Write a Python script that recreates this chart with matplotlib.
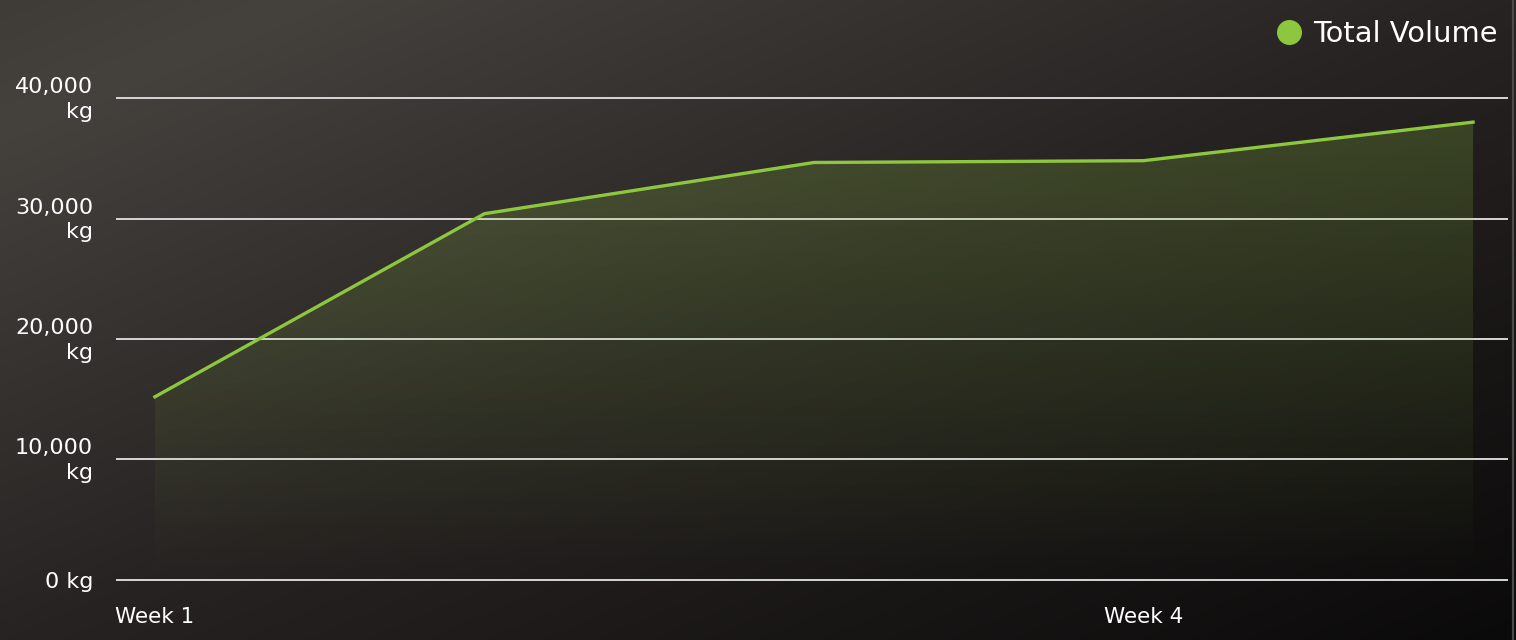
import numpy as np
import matplotlib
matplotlib.use("Agg")
import matplotlib.pyplot as plt
from matplotlib.patches import Polygon
from matplotlib.lines import Line2D
from matplotlib.colors import to_rgb
from matplotlib.transforms import ScaledTranslation

# ---- data ----
categories = ["Week 1", "Week 2", "Week 3", "Week 4", "Week 5"]
total_volume = [15200, 30400, 34650, 34800, 38000]
series_name = "Total Volume"
y_ticks = [0, 10000, 20000, 30000, 40000]
y_tick_labels = ["0 kg", "10,000\nkg", "20,000\nkg", "30,000\nkg", "40,000\nkg"]
shown_x_ticks = [0, 3]

GREEN = "#8dc63f"
W, H = 1516, 640

fig = plt.figure(figsize=(W / 100, H / 100), dpi=100)

# ---- background gradient (to bottom right) ----
bg = fig.add_axes([0, 0, 1, 1], zorder=-10)
bg.set_axis_off()
xs = np.linspace(0, 1, W)
ys = np.linspace(0, 1, H)
XX, YY = np.meshgrid(xs, ys)
T = (XX + YY) / 2.0
stops_t = [0.0, 0.1, 0.5, 1.0]
stops_c = [(0x3f, 0x3b, 0x37), (0x45, 0x41, 0x3d), (0x27, 0x23, 0x22), (0x0b, 0x0a, 0x0a)]
img = np.zeros((H, W, 3))
for ch in range(3):
    img[..., ch] = np.interp(T, stops_t, [c[ch] / 255 for c in stops_c])
bg.imshow(img, extent=[0, 1, 0, 1], aspect="auto", origin="upper")
bg.set_xlim(0, 1)
bg.set_ylim(0, 1)
bg.add_line(Line2D([1513 / W, 1513 / W], [0, 1], color="#4a4a4a", lw=1.6))

# ---- main axes ----
ax = fig.add_axes([116 / W, 54 / H, 1392 / W, 494 / H])
ax.patch.set_alpha(0)
x = np.arange(len(categories))

# gradient fill under line
verts = [(x[0], 0)] + list(zip(x, total_volume)) + [(x[-1], 0)]
poly = Polygon(verts, closed=True, facecolor="none", edgecolor="none", transform=ax.transData)
ax.add_patch(poly)
gy = np.linspace(0, 1, 300)[:, None]
rgba = np.zeros((300, 1, 4))
r, g, b = to_rgb(GREEN)
rgba[..., 0], rgba[..., 1], rgba[..., 2] = r, g, b
rgba[..., 3] = 0.24 * gy
im = ax.imshow(rgba, extent=[x[0], x[-1], 0, 40000], origin="lower", aspect="auto",
               interpolation="bilinear", zorder=1)
im.set_clip_path(poly)
ax.set_xlim(-0.118, 4.106)
ax.set_ylim(-500, 40500)

ax.plot(x, total_volume, color=GREEN, lw=2.4, zorder=3, label=series_name)

# grid & ticks
ax.set_yticks(y_ticks)
ax.set_yticklabels(y_tick_labels, fontsize=16, color="white", linespacing=1.3,
                   multialignment="right")
ax.set_xticks(shown_x_ticks)
ax.set_xticklabels([categories[i] for i in shown_x_ticks], fontsize=15.5, color="white")
ax.tick_params(axis="y", length=0, pad=16.5)
ax.tick_params(axis="x", length=0, pad=15)
ax.grid(axis="y", color="#d6d6d6", lw=1.4)
ax.set_axisbelow(True)
for s in ax.spines.values():
    s.set_visible(False)
shift = ScaledTranslation(0, 3 / 100, fig.dpi_scale_trans)
for lbl in ax.get_yticklabels():
    if "\n" in lbl.get_text():
        lbl.set_transform(lbl.get_transform() + shift)

# legend
handle = Line2D([], [], marker="o", ls="", color=GREEN, markersize=17)
leg = fig.legend([handle], [series_name], loc="upper right",
                 bbox_to_anchor=(1498 / W, 1 - 20 / H), frameon=False, fontsize=20.8,
                 labelcolor="white", borderaxespad=0, borderpad=0,
                 handlelength=0.9, handletextpad=0.4)

fig.savefig("out.png", dpi=100)
